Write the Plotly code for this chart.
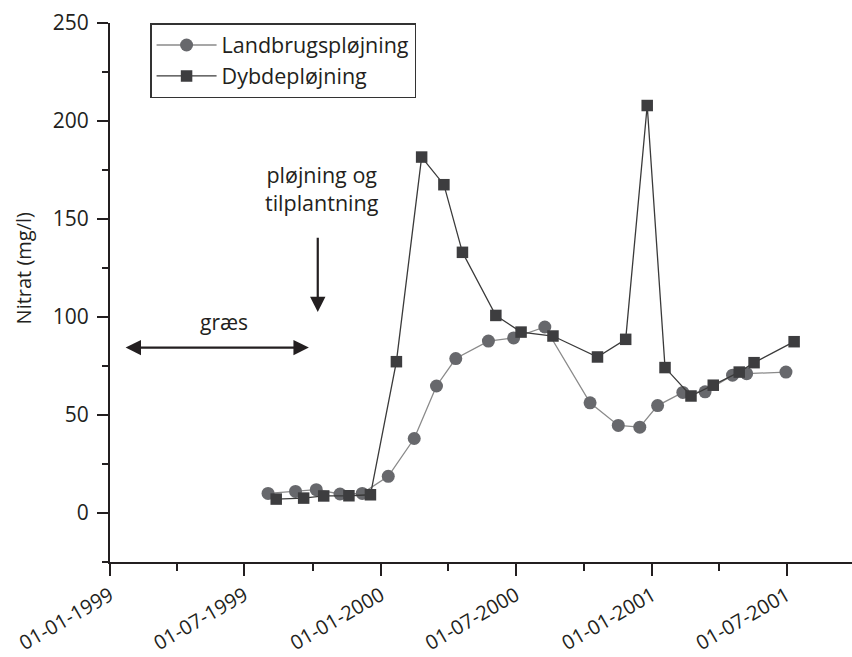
import plotly.graph_objects as go

# Landbrugspløjning (circles)
land_dates = ["1999-08-02", "1999-09-08", "1999-10-06", "1999-11-07", "1999-12-07",
              "2000-01-11", "2000-02-15", "2000-03-16", "2000-04-11", "2000-05-25",
              "2000-06-28", "2000-08-09", "2000-10-09", "2000-11-16", "2000-12-15",
              "2001-01-08", "2001-02-11", "2001-03-13", "2001-04-19", "2001-05-08",
              "2001-06-30"]
land_values = [10.0, 11.0, 11.9, 9.7, 10.0,
               18.7, 38.0, 64.8, 78.8, 87.7,
               89.3, 94.9, 56.2, 44.7, 43.8,
               54.8, 61.5, 61.8, 70.3, 71.1,
               71.9]

# Dybdepløjning (squares)
dyb_dates = ["1999-08-13", "1999-09-19", "1999-10-16", "1999-11-19", "1999-12-18",
             "2000-01-22", "2000-02-25", "2000-03-26", "2000-04-20", "2000-06-04",
             "2000-07-08", "2000-08-20", "2000-10-19", "2000-11-26", "2000-12-25",
             "2001-01-18", "2001-02-22", "2001-03-24", "2001-04-28", "2001-05-18",
             "2001-07-11"]
dyb_values = [7.1, 7.6, 8.7, 8.8, 9.3,
              77.2, 181.6, 167.5, 133.0, 100.8,
              92.3, 90.3, 79.6, 88.6, 207.9,
              74.2, 59.7, 65.2, 71.9, 76.7,
              87.4]

series_names = ["Landbrugspløjning", "Dybdepløjning"]
y_title = "Nitrat (mg/l)"
x_range = ["1999-01-01", "2001-09-27"]
y_range = [-25, 250]

FONT = "Open Sans, Noto Sans, DejaVu Sans, sans-serif"
INK = "#231f20"

fig = go.Figure()
fig.add_trace(go.Scatter(
    x=land_dates, y=land_values, name=series_names[0], mode="lines+markers",
    line=dict(color="#8a8a8a", width=1.3),
    marker=dict(symbol="circle", size=13, color="#67686c", line=dict(width=0)),
))
fig.add_trace(go.Scatter(
    x=dyb_dates, y=dyb_values, name=series_names[1], mode="lines+markers",
    line=dict(color="#3a3a3a", width=1.3),
    marker=dict(symbol="square", size=11.5, color="#3d3d3f", line=dict(width=0)),
))

# annotations: arrows and text
fig.add_annotation(x="1999-10-14", y=165.5, xref="x", yref="y",
                   text="pløjning og<br>tilplantning", showarrow=False,
                   font=dict(size=21.5, color=INK, family=FONT), align="center")
fig.add_annotation(x="1999-10-08", y=102.5, ax="1999-10-08", ay=141.2,
                   xref="x", yref="y", axref="x", ayref="y", text="",
                   showarrow=True, arrowhead=2, arrowsize=1.4, arrowwidth=2.2,
                   arrowcolor=INK)
fig.add_annotation(x="1999-06-03", y=97.3, xref="x", yref="y",
                   text="græs", showarrow=False,
                   font=dict(size=21, color=INK, family=FONT))
fig.add_annotation(x="1999-09-26", y=84.4, ax="1999-01-20", ay=84.4,
                   xref="x", yref="y", axref="x", ayref="y", text="",
                   showarrow=True, arrowhead=2, startarrowhead=2,
                   arrowside="end+start", arrowsize=1.4, startarrowsize=1.4,
                   arrowwidth=2.2, arrowcolor=INK)
# y-axis title
fig.add_annotation(x=-0.117, y=0.545, xref="paper", yref="paper",
                   xanchor="center", yanchor="middle",
                   text=y_title, textangle=-90, showarrow=False,
                   font=dict(size=20, color=INK, family=FONT))

fig.update_layout(
    width=852, height=657,
    margin=dict(l=110, r=0, t=23, b=95, autoexpand=False),
    paper_bgcolor="white", plot_bgcolor="white",
    font=dict(family=FONT, color=INK, size=19),
    showlegend=True,
    legend=dict(x=0.054, y=1.0, xanchor="left", yanchor="top",
                bordercolor="#333333", borderwidth=1.5, bgcolor="white",
                font=dict(size=21.5, color=INK, family=FONT),
                itemwidth=60, tracegroupgap=0),
)
fig.update_xaxes(
    type="date", range=x_range, showgrid=False, zeroline=False, automargin=False,
    showline=True, linecolor=INK, linewidth=2,
    ticks="outside", ticklen=12, tickwidth=2, tickcolor=INK,
    tick0="1999-01-01", dtick="M6", tickformat="%d-%m-%Y", tickangle=-30,
    tickfont=dict(size=20, color=INK, family=FONT),
    minor=dict(ticks="outside", ticklen=7, tickwidth=2, tickcolor=INK,
               dtick="M3", tick0="1999-01-01", showgrid=False),
)
fig.update_yaxes(
    range=y_range, showgrid=False, zeroline=False, automargin=False,
    showline=True, linecolor=INK, linewidth=2,
    ticks="outside", ticklen=11, tickwidth=2, tickcolor=INK,
    tick0=0, dtick=50, ticklabelstandoff=4,
    tickfont=dict(size=21, color=INK, family=FONT),
    minor=dict(ticks="outside", ticklen=6, tickwidth=2, tickcolor=INK,
               dtick=25, tick0=0, showgrid=False),
)

fig.write_html("out.html")
